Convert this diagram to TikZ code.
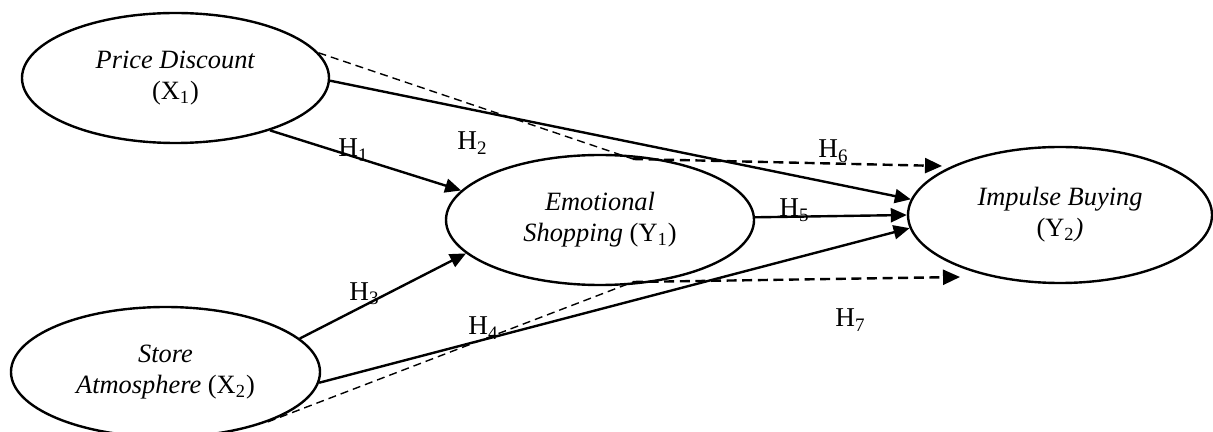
\documentclass[tikz,border=0pt]{standalone}
\usepackage{fontspec}
\setmainfont{Liberation Serif}
\usetikzlibrary{shapes.geometric,arrows.meta}
\begin{document}
\begin{tikzpicture}[x=0.5pt,y=-0.5pt,
  construct/.style={ellipse,draw,line width=1.2pt,inner sep=0pt,align=center,
    font=\fontsize{13.2}{15.5}\selectfont},
  hpath/.style={line width=1.2pt,-{Triangle[length=8pt,width=7pt]}},
  thindash/.style={line width=0.7pt,dash pattern=on 4pt off 2.5pt},
  thickdash/.style={line width=1.2pt,dash pattern=on 5pt off 2.8pt,
    -{Triangle[length=8.5pt,width=7.5pt]}},
  hyp/.style={font=\fontsize{13.6}{15}\selectfont,inner sep=0pt,anchor=base west}]
\useasboundingbox (0,0) rectangle (1213,432);

% constructs
\node[construct,minimum width=153.5pt,minimum height=65pt] (pd) at (175.5,78)
  {\textit{Price Discount}\\(X\textsubscript{1})};
\node[construct,minimum width=154pt,minimum height=65pt] (es) at (600,220)
  {\textit{Emotional}\\\textit{Shopping} (Y\textsubscript{1})};
\node[construct,minimum width=152pt,minimum height=68pt] (ib) at (1060,215)
  {\textit{Impulse Buying}\\(Y\textsubscript{2}\textit{)}};
\node[construct,minimum width=154.5pt,minimum height=65pt] (sa) at (165.5,372)
  {\textit{Store}\\\textit{Atmosphere} (X\textsubscript{2})};

% helper points of the mediated (dashed) paths
\coordinate (h6mid) at (633,159);
\coordinate (h6tip) at (942,166);
\coordinate (h7mid) at (633,282);
\coordinate (h7tip) at (960,277);

% direct paths
\draw[hpath] (pd.-29.6) -- (es.168.9);
\draw[hpath] (sa.14.9) -- (es.194);
\draw[hpath] (pd.-1.9) -- (ib.174.4);
\draw[hpath] (es.1.5) -- (ib.west);
\draw[hpath] (sa.-4.1) -- (ib.185.6);

% mediated paths
\draw[thindash] (pd.10.2) -- (h6mid);
\draw[thickdash] (h6mid) -- (h6tip);
\draw[thindash] (sa.-26.2) -- (h7mid);
\draw[thickdash] (h7mid) -- (h7tip);

% hypothesis labels
\node[hyp] (h1) at (338,157) {H\textsubscript{1}};
\node[hyp] (h2) at (457,150) {H\textsubscript{2}};
\node[hyp] (h3) at (349,300) {H\textsubscript{3}};
\node[hyp] (h4) at (468,335) {H\textsubscript{4}};
\node[hyp] (h5) at (779,217) {H\textsubscript{5}};
\node[hyp] (h6) at (818,158) {H\textsubscript{6}};
\node[hyp] (h7) at (835,327) {H\textsubscript{7}};
\end{tikzpicture}
\end{document}
